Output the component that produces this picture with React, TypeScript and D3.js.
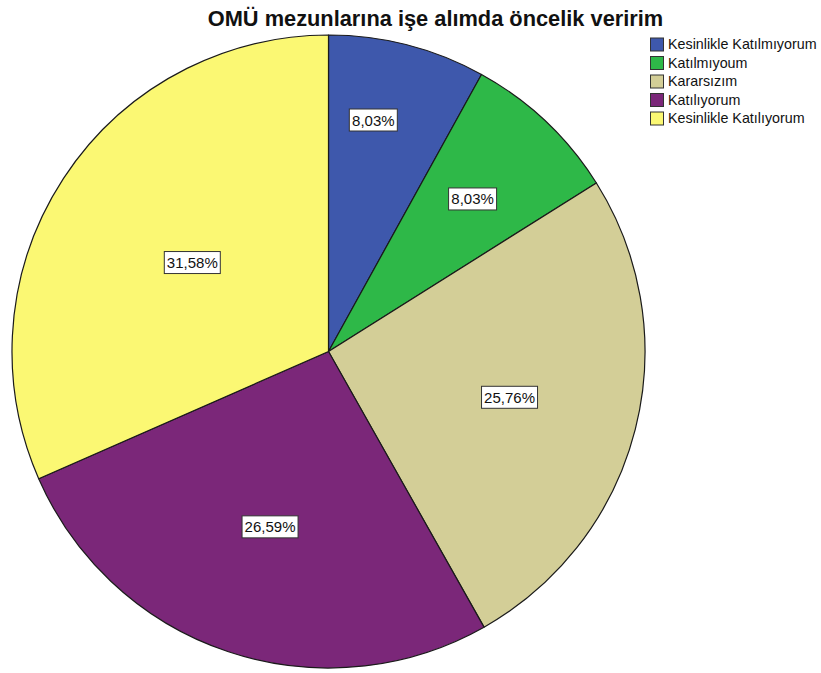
import React from "react";
import * as d3 from "d3";

const title = "OMÜ mezunlarına işe alımda öncelik veririm";
const categories = [
  "Kesinlikle Katılmıyorum",
  "Katılmıyoum",
  "Kararsızım",
  "Katılıyorum",
  "Kesinlikle Katılıyorum",
];
const percents = [8.03, 8.03, 25.76, 26.59, 31.58];
const percentLabels = ["8,03%", "8,03%", "25,76%", "26,59%", "31,58%"];
const colors = ["#3E58AC", "#2EB848", "#D3CE97", "#7B2779", "#FBF873"];

// label placement (fraction of radius, angle shift in degrees)
const labelRadiusFactor = [0.745, 0.663, 0.59, 0.584, 0.514];
const labelAngleShift = [-3.5, 0, 0, 0, 0];

const W = 821;
const H = 673;
const cx = 328.5;
const cy = 351.5;
const R = 316.5;

export default function App() {
  const pie = d3
    .pie<number>()
    .sort(null)
    .value((d) => d);
  const arcs = pie(percents);
  const arc = d3.arc<d3.PieArcDatum<number>>().innerRadius(0).outerRadius(R);

  const legendX = 650;
  const legendY0 = 37.5;
  const legendStep = 18.5;
  const sq = 13;

  return (
    <svg
      width={W}
      height={H}
      style={{ position: "absolute", left: 0, top: 0, background: "#fff" }}
      fontFamily="'Liberation Sans', Arial, sans-serif"
    >
      <text
        x={435.5}
        y={26}
        textAnchor="middle"
        fontSize={21.8}
        fontWeight="bold"
        fill="#111"
      >
        {title}
      </text>
      <g transform={`translate(${cx},${cy})`}>
        {arcs.map((a, i) => (
          <path
            key={i}
            d={arc(a) || ""}
            fill={colors[i]}
            stroke="#1a1a1a"
            strokeWidth={1.2}
            strokeLinejoin="round"
          />
        ))}
        {arcs.map((a, i) => {
          const mid = (a.startAngle + a.endAngle) / 2 + (labelAngleShift[i] * Math.PI) / 180;
          const d = R * labelRadiusFactor[i];
          const x = d * Math.sin(mid);
          const y = -d * Math.cos(mid);
          const bw = percentLabels[i].length > 5 ? 56 : 48;
          const bh = 22;
          return (
            <g key={"l" + i} transform={`translate(${x},${y})`}>
              <rect
                x={-bw / 2}
                y={-bh / 2}
                width={bw}
                height={bh}
                fill="#fff"
                stroke="#333"
                strokeWidth={1}
              />
              <text
                x={0}
                y={5.5}
                textAnchor="middle"
                fontSize={15}
                fill="#111"
              >
                {percentLabels[i]}
              </text>
            </g>
          );
        })}
      </g>
      <g>
        {categories.map((c, i) => (
          <g key={c} transform={`translate(${legendX},${legendY0 + i * legendStep})`}>
            <rect
              x={0.5}
              y={0.5}
              width={sq}
              height={sq}
              fill={colors[i]}
              stroke="#333"
              strokeWidth={1}
            />
            <text x={18} y={11.5} fontSize={14.3} fill="#111">
              {c}
            </text>
          </g>
        ))}
      </g>
    </svg>
  );
}
